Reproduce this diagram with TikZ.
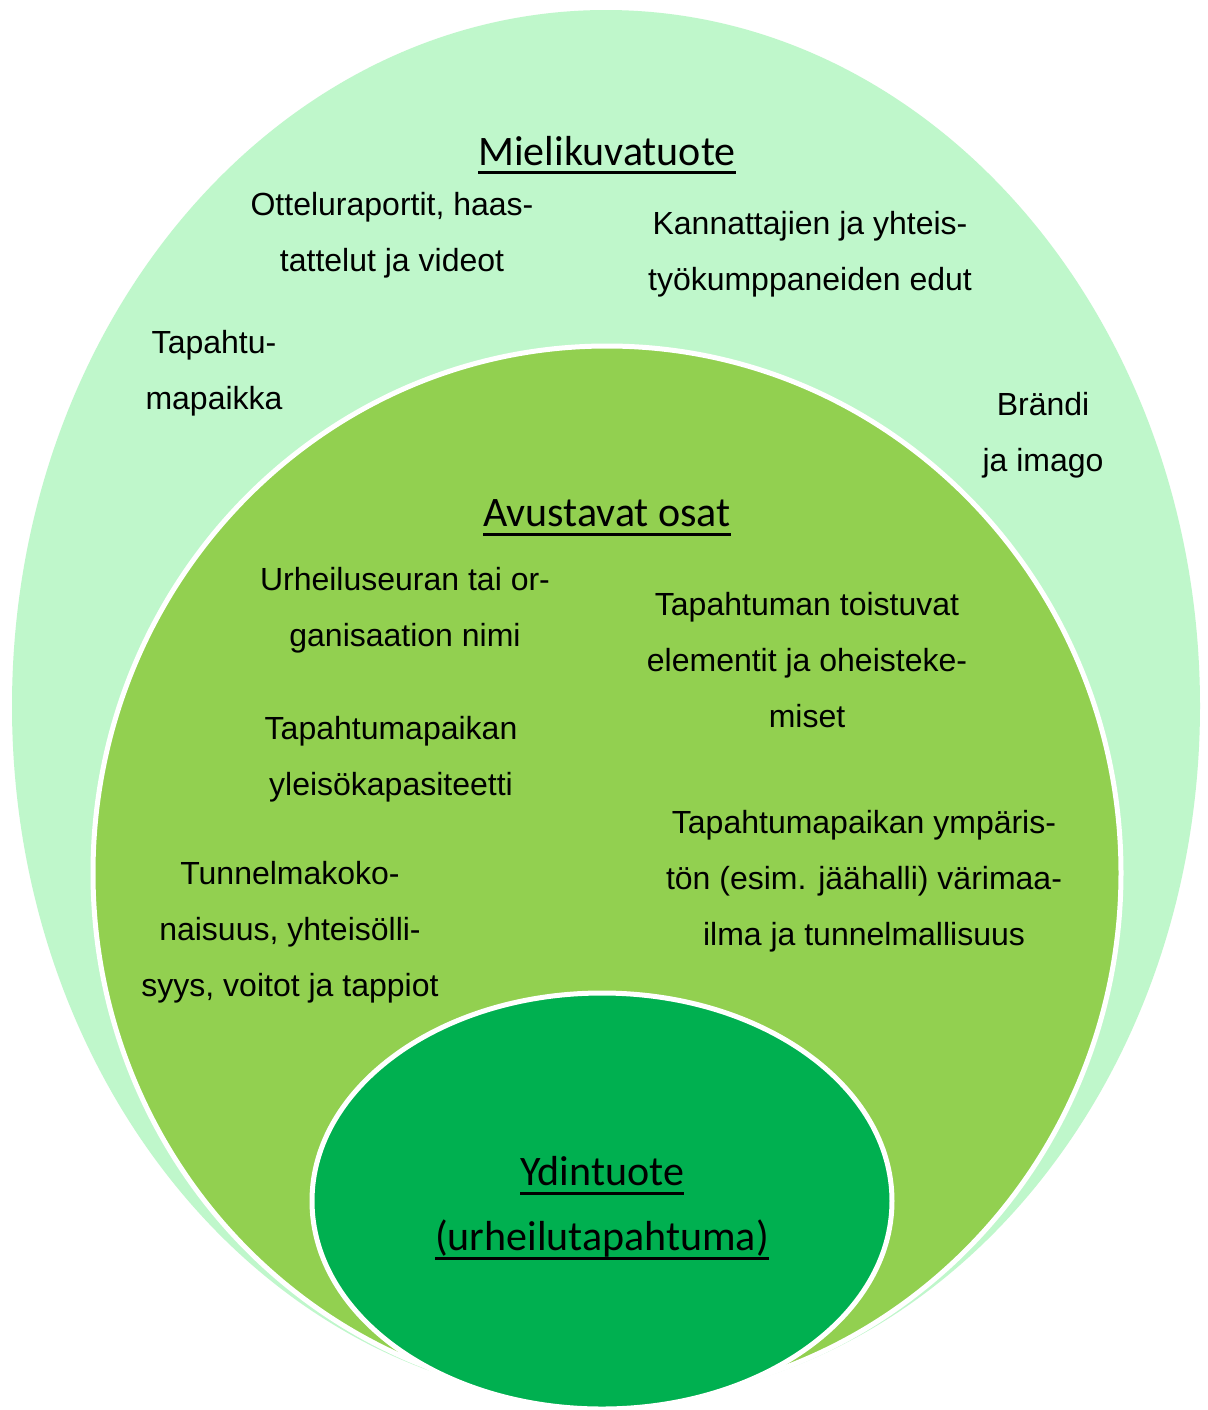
\documentclass[tikz,border=0pt]{standalone}
\usepackage{fontspec}
\setmainfont{Liberation Sans}
\newfontfamily\calfont{Carlito}
\newcommand\ulx[1]{\setbox0\hbox{#1}\rlap{\rule[-4.5pt]{\wd0}{1.5pt}}\box0}
\definecolor{outerg}{RGB}{191,247,203}
\definecolor{midg}{RGB}{146,208,80}
\definecolor{inng}{RGB}{0,176,80}
\tikzset{
  lbl/.style={align=center, inner sep=0pt, font=\fontsize{16pt}{28pt}\selectfont},
  ttl/.style={align=center, inner sep=0pt, font=\calfont\fontsize{21pt}{32.5pt}\selectfont},
  ring/.style={draw=white, line width=2.5pt}
}
\begin{document}
\begin{tikzpicture}[x=0.5pt,y=-0.5pt]
\useasboundingbox[fill=white] (0,0) rectangle (1208,1410);
\fill[outerg] (606,706) ellipse [x radius=594, y radius=696];
\draw[ring, fill=midg] (607,873) ellipse [x radius=514, y radius=527];
\draw[ring, fill=inng] (602,1201) ellipse [x radius=290, y radius=208];

\node[ttl] (mk) at (607,155) {\ulx{Mielikuvatuote}};
\node[lbl] (ott) at (392,235) {Otteluraportit, haas-\\tattelut ja videot};
\node[lbl] (kan) at (810,254) {Kannattajien ja yhteis-\\työkumppaneiden edut};
\node[lbl] (tap) at (214,373) {Tapahtu-\\mapaikka};
\node[lbl] (bra) at (1043,435) {Brändi\\ja imago};

\node[ttl] (av) at (607,518) {\ulx{Avustavat osat}};
\node[lbl] (urh) at (405,610) {Urheiluseuran tai or-\\ganisaation nimi};
\node[lbl] (toi) at (807,660) {Tapahtuman toistuvat\\elementit ja oheisteke-\\miset};
\node[lbl] (yle) at (391,759) {Tapahtumapaikan\\yleisökapasiteetti};
\node[lbl] (ymp) at (864,881) {Tapahtumapaikan ympäris-\\tön (esim. jäähalli) värimaa-\\ilma ja tunnelmallisuus};
\node[lbl] (tun) at (290,932) {Tunnelmakoko-\\naisuus, yhteisölli-\\syys, voitot ja tappiot};

\node[ttl] (yd) at (602,1208) {\ulx{Ydintuote}\\\ulx{(urheilutapahtuma)}};
\end{tikzpicture}
\end{document}
